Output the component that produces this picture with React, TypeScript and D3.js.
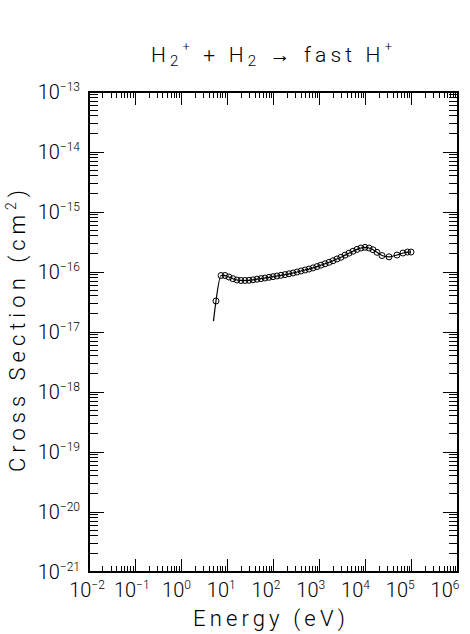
import React from "react";
import * as d3 from "d3";

// H2+ + H2 -> fast H+ cross section
const energy = [
  5.66, 7.3, 8.9, 10.8, 13.2, 16.2, 19.7, 24.1, 29.4, 35.9, 43.9, 53.6, 65.4, 80,
  97.5, 119, 145, 178, 217, 265, 323, 395, 482, 588, 718, 877, 1070, 1310, 1600,
  1950, 2380, 2900, 3550, 4330, 5290, 6460, 7890, 9630, 11760, 14360, 17530,
  22500, 31900, 47600, 64200, 80400, 95700,
];
const crossSection = [
  3.29e-17, 8.74e-17, 8.74e-17, 8.25e-17, 7.73e-17, 7.36e-17, 7.22e-17, 7.22e-17,
  7.27e-17, 7.41e-17, 7.59e-17, 7.76e-17, 7.94e-17, 8.16e-17, 8.35e-17, 8.58e-17,
  8.81e-17, 9.05e-17, 9.33e-17, 9.62e-17, 1.0e-16, 1.04e-16, 1.08e-16, 1.12e-16,
  1.17e-16, 1.23e-16, 1.3e-16, 1.37e-16, 1.45e-16, 1.54e-16, 1.65e-16, 1.76e-16,
  1.91e-16, 2.06e-16, 2.22e-16, 2.38e-16, 2.51e-16, 2.58e-16, 2.51e-16, 2.35e-16,
  2.13e-16, 1.88e-16, 1.79e-16, 1.92e-16, 2.07e-16, 2.15e-16, 2.15e-16,
];
// the fitted line starts a little below the first measured point
const fitStartEnergy = 5.0;
const fitStartSigma = 1.52e-17;

const xExponents = [-2, -1, 0, 1, 2, 3, 4, 5, 6];
const yExponents = [-13, -14, -15, -16, -17, -18, -19, -20, -21];

const W = 470;
const H = 634;
const left = 89;
const right = 458;
const top = 92;
const bottom = 572;
const font = "Roboto, 'Liberation Sans', sans-serif";

export default function App() {
  const x = d3.scaleLog().domain([1e-2, 1e6]).range([left, right]);
  const y = d3.scaleLog().domain([1e-21, 1e-13]).range([bottom, top]);
  // the plotting package squeezes its x labels a bit towards the left
  const xLabel = d3.scaleLog().domain([1e-2, 1e6]).range([left - 2, right - 13]);

  const minorX: number[] = [];
  xExponents.slice(0, -1).forEach((e) => {
    for (let k = 2; k <= 9; k++) minorX.push(k * Math.pow(10, e));
  });
  const minorY: number[] = [];
  yExponents.slice(1).forEach((e) => {
    for (let k = 2; k <= 9; k++) minorY.push(k * Math.pow(10, e));
  });

  const points = energy.map((e, i) => [e, crossSection[i]] as [number, number]);
  const fit = [[fitStartEnergy, fitStartSigma] as [number, number], ...points];
  const line = d3
    .line<[number, number]>()
    .x((d) => x(d[0]))
    .y((d) => y(d[1]))
    .curve(d3.curveMonotoneX);

  return (
    <svg
      width={W}
      height={H}
      style={{ position: "absolute", left: 0, top: 0, background: "#fff" }}
      fontFamily={font}
      fontWeight={300}
    >
      <rect x={0} y={0} width={W} height={H} fill="#fff" />

      {/* title */}
      <text x={151} y={62} fontSize={21} textLength={241} lengthAdjust="spacing">
        <tspan>H</tspan>
        <tspan fontSize={15} dy={4}>2</tspan>
        <tspan fontSize={13} dy={-15}>+</tspan>
        <tspan dy={11}>{" + H"}</tspan>
        <tspan fontSize={15} dy={4}>2</tspan>
        <tspan dy={-4}>{" → fast H"}</tspan>
        <tspan fontSize={13} dy={-11}>+</tspan>
      </text>

      {/* frame */}
      <rect
        x={left}
        y={top}
        width={right - left}
        height={bottom - top}
        fill="none"
        stroke="#000"
        strokeWidth={1.5}
        shapeRendering="crispEdges"
      />

      {/* ticks on all four sides */}
      <g stroke="#000" strokeWidth={1} shapeRendering="crispEdges">
        {xExponents.map((e) => {
          const px = x(Math.pow(10, e));
          return (
            <g key={"xM" + e}>
              <line x1={px} x2={px} y1={bottom} y2={bottom - 13} />
              <line x1={px} x2={px} y1={top} y2={top + 13} />
            </g>
          );
        })}
        {minorX.map((v, i) => {
          const px = x(v);
          return (
            <g key={"xm" + i}>
              <line x1={px} x2={px} y1={bottom} y2={bottom - 6} />
              <line x1={px} x2={px} y1={top} y2={top + 6} />
            </g>
          );
        })}
        {yExponents.map((e) => {
          const py = y(Math.pow(10, e));
          return (
            <g key={"yM" + e}>
              <line x1={left} x2={left + 15} y1={py} y2={py} />
              <line x1={right} x2={right - 15} y1={py} y2={py} />
            </g>
          );
        })}
        {minorY.map((v, i) => {
          const py = y(v);
          return (
            <g key={"ym" + i}>
              <line x1={left} x2={left + 9} y1={py} y2={py} />
              <line x1={right} x2={right - 9} y1={py} y2={py} />
            </g>
          );
        })}
      </g>

      {/* x tick labels */}
      {xExponents.map((e) => (
        <text key={"xl" + e} x={xLabel(Math.pow(10, e))} y={597} textAnchor="middle" fontSize={20}>
          <tspan>10</tspan>
          <tspan fontSize={12} dy={-8}>
            {e < 0 ? "−" + Math.abs(e) : String(e)}
          </tspan>
        </text>
      ))}

      {/* y tick labels */}
      {yExponents.map((e) => (
        <text key={"yl" + e} x={80} y={y(Math.pow(10, e)) + 7} textAnchor="end" fontSize={20}>
          <tspan>10</tspan>
          <tspan fontSize={12} dy={-8}>
            {"−" + Math.abs(e)}
          </tspan>
        </text>
      ))}

      {/* axis titles */}
      <text x={193} y={626} fontSize={22} textLength={152} lengthAdjust="spacing">
        Energy (eV)
      </text>
      <text
        transform="translate(25,472) rotate(-90)"
        fontSize={22}
        textLength={282}
        lengthAdjust="spacing"
      >
        <tspan>Cross Section (cm</tspan>
        <tspan fontSize={14} dy={-9}>2</tspan>
        <tspan dy={9}>)</tspan>
      </text>

      {/* fit line and data */}
      <path d={line(fit) ?? ""} fill="none" stroke="#000" strokeWidth={1.2} />
      <g fill="none" stroke="#000" strokeWidth={1}>
        {points.map((d, i) => (
          <circle key={i} cx={x(d[0])} cy={y(d[1])} r={3} />
        ))}
      </g>
    </svg>
  );
}
